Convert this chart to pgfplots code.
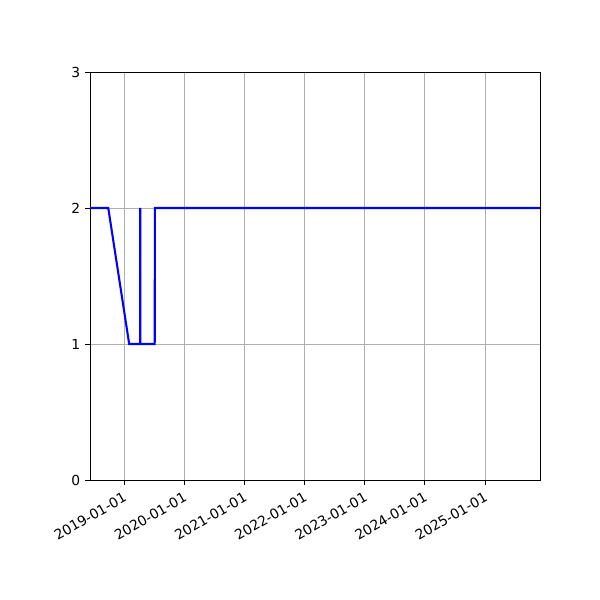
\documentclass[border=0pt]{standalone}
\usepackage{fontspec}
\setmainfont{DejaVu Sans}
\usepackage{pgfplots}
\pgfplotsset{compat=1.18}
\usepgfplotslibrary{dateplot}
\begin{document}
\begin{tikzpicture}
\begin{axis}[
  at={(0,0)}, anchor=south west,
  width=4.5in, height=4.08in, scale only axis,
  date coordinates in=x,
  xmin=2018-06-07, xmax=2025-11-30,
  ymin=0, ymax=3,
  xtick={2019-01-01,2020-01-01,2021-01-01,2022-01-01,2023-01-01,2024-01-01,2025-01-01},
  xticklabel={\year-\month-\day},
  xticklabel style={rotate=30, anchor=north east, font=\fontsize{10}{12}\selectfont},
  ytick={0,1,2,3},
  yticklabel style={font=\fontsize{10}{12}\selectfont},
  /pgf/number format/assume math mode=true,
  grid=major,
  major grid style={color=black!31, line width=0.6pt},
  axis line style={line width=0.6pt},
  tick style={black, line width=0.6pt},
  tick align=outside,
  major tick length=3.5pt,
  xtick pos=bottom, ytick pos=left,
]
\addplot[blue, line width=1.5pt, mark=none] coordinates {
(2018-06-07,2)
(2018-09-26,2)
(2019-01-31,1)
(2019-04-07,1)
(2019-04-08,2)
(2019-04-09,1)
(2019-07-05,1)
(2019-07-06,2)
(2025-11-30,2)
};
\end{axis}
\path[use as bounding box] (-0.9in,-1.2in) rectangle (5.1in,4.8in);
\end{tikzpicture}
\end{document}
